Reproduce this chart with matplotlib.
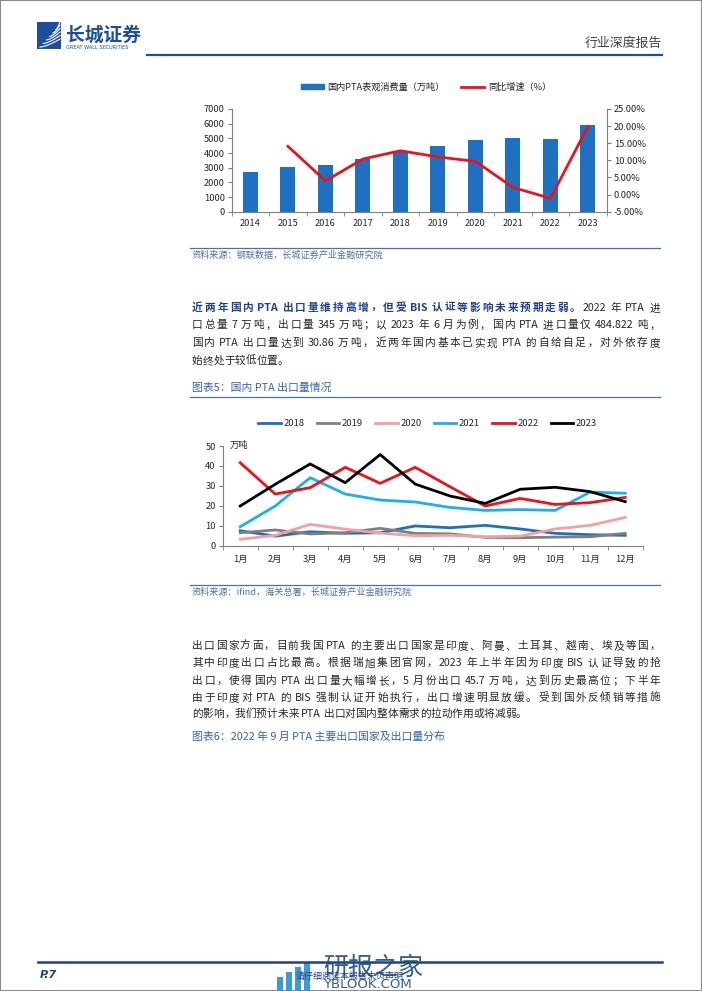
import numpy as np
import matplotlib
matplotlib.use('Agg')
import matplotlib.pyplot as plt
from matplotlib.patches import Rectangle, Patch
from matplotlib.lines import Line2D
from matplotlib.font_manager import FontProperties

plt.rcParams['font.family'] = ['Noto Sans CJK SC', 'DejaVu Sans']

# ---------------- data ----------------
years = ['2014', '2015', '2016', '2017', '2018', '2019', '2020', '2021', '2022', '2023']
consumption = [2740, 3080, 3215, 3580, 4050, 4470, 4900, 5040, 4970, 5930]
growth = [np.nan, 14.1, 4.0, 10.4, 12.8, 11.0, 9.7, 2.1, -1.1, 19.9]

months = ['1月', '2月', '3月', '4月', '5月', '6月', '7月', '8月', '9月', '10月', '11月', '12月']
exp_2018 = [7.5, 4.8, 7.0, 6.2, 6.5, 9.9, 9.0, 10.2, 8.4, 6.2, 5.5, 5.2]
exp_2019 = [6.5, 7.9, 5.9, 6.5, 8.7, 6.2, 5.9, 4.2, 4.0, 4.3, 4.5, 6.2]
exp_2020 = [3.2, 5.2, 10.7, 8.3, 6.3, 5.0, 5.2, 4.5, 4.8, 8.4, 10.2, 14.2]
exp_2021 = [9.5, 19.9, 34.1, 25.9, 22.9, 21.9, 19.2, 17.7, 18.1, 17.7, 26.9, 26.3]
exp_2022 = [41.6, 25.9, 29.1, 39.3, 31.3, 39.3, 29.5, 19.9, 23.7, 20.7, 21.6, 24.2]
exp_2023 = [19.9, 30.8, 41.0, 31.6, 45.7, 30.9, 24.9, 21.2, 28.3, 29.3, 27.1, 22.1]
export_series = [('2018', exp_2018, '#1F6EC0'), ('2019', exp_2019, '#7F7F7F'),
                 ('2020', exp_2020, '#F4A0A0'), ('2021', exp_2021, '#1CB0EA'),
                 ('2022', exp_2022, '#E8141C'), ('2023', exp_2023, '#000000')]

# ---------------- page ----------------
W, H = 702, 991
fig = plt.figure(figsize=(W / 100, H / 100), dpi=100)
renderer = fig.canvas.get_renderer()


def X(px):
    return px / W


def Y(py):
    return 1 - py / H


BLUE_DARK = '#1D3F94'
BLUE_T = '#3563B0'
SRC = '#4E6FA8'
TXT = '#262626'


def hline(x0, x1, y, color, lw):
    fig.add_artist(Line2D([X(x0), X(x1)], [Y(y), Y(y)], color=color, lw=lw,
                          transform=fig.transFigure))


def adv_of(s, fp, size):
    if not s.isascii():
        return size * 100 / 72.0 * len(s)
    w1, _, _ = renderer.get_text_width_height_descent('|' + s + '|', fp, ismath=False)
    w0, _, _ = renderer.get_text_width_height_descent('||', fp, ismath=False)
    return w1 - w0


def place_line(y_px, segments, x0=192.0, width=None, size=7.7):
    tokens = []
    for text, color, weight in segments:
        fp = FontProperties(family=['Noto Sans CJK SC', 'DejaVu Sans'], weight=weight, size=size)
        i = 0
        while i < len(text):
            ch = text[i]
            if ch == ' ':
                tokens.append((None, adv_of(' ', fp, size), None, None))
                i += 1
            elif ch.isascii():
                j = i
                while j < len(text) and text[j].isascii() and text[j] != ' ':
                    j += 1
                word = text[i:j]
                tokens.append((word, adv_of(word, fp, size), color, fp))
                i = j
            else:
                tokens.append((ch, adv_of(ch, fp, size), color, fp))
                i += 1
    total = sum(t[1] for t in tokens)
    n = len([t for t in tokens if t[0] is not None])
    extra = (width - total) / (n - 1) if (width and n > 1) else 0
    x = x0
    for word, adv, color, fp in tokens:
        if word is None:
            x += adv
            continue
        fig.text(X(x), Y(y_px), word, ha='left', va='baseline', fontproperties=fp, color=color)
        x += adv + extra


# border
fig.add_artist(Rectangle((0, 0), 1, 1, transform=fig.transFigure, fill=False,
                         edgecolor='#8C8C8C', lw=1.5))

# header
fig.add_artist(Rectangle((X(37), Y(49)), X(24), 27 / H, transform=fig.transFigure,
                         color='#1D4E9E', lw=0))
for k in range(6):
    xs = np.linspace(40 + k * 3.2, 60, 20)
    ys = 47 - k * 3.5 - 8 * ((xs - xs[0]) / (60 - xs[0] + 1e-9)) ** 1.5
    fig.add_artist(Line2D([X(v) for v in xs], [Y(v) for v in ys], color='white', lw=0.8,
                          transform=fig.transFigure))
fig.text(X(66), Y(35), '长城证券', fontsize=13.5, fontweight='bold', color='#1D4E9E',
         ha='left', va='center')
fig.text(X(66), Y(47.5), 'GREAT WALL SECURITIES', fontsize=3.6, color='#1D4E9E',
         ha='left', va='center', family='DejaVu Sans')
fig.text(X(662), Y(43), '行业深度报告', fontsize=9.3, color='#404040', ha='right', va='center')
hline(147, 662, 55, '#1F4E9A', 1.6)

# ---------------- chart 1 ----------------
ax1 = fig.add_axes([X(231.7), Y(211.7), (606.7 - 231.7) / W, (211.7 - 109) / H])
xi = np.arange(len(years))
ax1.bar(xi, consumption, width=0.4, color='#1F70C1', zorder=2)
ax1.set_xlim(-0.5, len(years) - 0.5)
ax1.set_ylim(0, 7000)
ax1.set_yticks(np.arange(0, 7001, 1000))
ax1.set_xticks(xi)
ax1.set_xticklabels(years)
ax1.set_xticks(np.arange(-0.5, len(years)), minor=True)
ax1.tick_params(axis='x', which='major', length=0, labelsize=6.7, pad=5, colors=TXT)
ax1.tick_params(axis='x', which='minor', length=3, direction='out', color='#7F7F7F')
ax1.tick_params(axis='y', length=3, direction='out', labelsize=6.7, color='#7F7F7F', labelcolor=TXT, pad=2)
for s in ['top', 'right']:
    ax1.spines[s].set_visible(False)
for s in ['left', 'bottom']:
    ax1.spines[s].set_color('#7F7F7F')
ax2 = ax1.twinx()
ax2.plot(xi, growth, color='#E8141C', lw=2, zorder=3)
ax2.set_ylim(-5, 25)
ax2.set_yticks(np.arange(-5, 25.1, 5))
ax2.set_yticklabels([f'{v:.2f}%' for v in np.arange(-5, 25.1, 5)])
ax2.tick_params(axis='y', length=3, direction='out', labelsize=6.7, color='#7F7F7F', labelcolor=TXT, pad=2)
for s in ['top', 'left', 'bottom']:
    ax2.spines[s].set_visible(False)
ax2.spines['right'].set_color('#7F7F7F')

leg1 = fig.legend([Patch(color='#1F70C1'), Line2D([], [], color='#E8141C', lw=2)],
                  ['国内PTA表观消费量（万吨）', '同比增速（%）'],
                  loc='center', bbox_to_anchor=(X(426), Y(87)), ncol=2, frameon=False,
                  fontsize=6.6, handlelength=2.5, handleheight=0.55, handletextpad=0.4,
                  columnspacing=1.8)
for t in leg1.get_texts():
    t.set_color(TXT)

hline(190, 660, 247.5, '#4A6FB5', 0.9)
fig.text(X(192), Y(255), '资料来源：钢联数据，长城证券产业金融研究院', fontsize=6.6, color=SRC,
         ha='left', va='center', style='italic')

# ---------------- paragraph 1 ----------------
W_TXT = 468
place_line(310.7, [('近两年国内 PTA 出口量维持高增，但受 BIS 认证等影响未来预期走弱。', BLUE_DARK, 'bold'),
                   ('2022 年 PTA 进', TXT, 'normal')], width=W_TXT)
place_line(328.4, [('口总量 7 万吨，出口量 345 万吨；以 2023 年 6 月为例，国内 PTA 进口量仅 484.822 吨，', TXT, 'normal')], width=W_TXT)
place_line(346.2, [('国内 PTA 出口量达到 30.86 万吨，近两年国内基本已实现 PTA 的自给自足，对外依存度', TXT, 'normal')], width=W_TXT)
place_line(364.0, [('始终处于较低位置。', TXT, 'normal')])

fig.text(X(192), Y(387.3), '图表5：国内 PTA 出口量情况', fontsize=7.8, color=BLUE_T,
         ha='left', va='center', style='italic')
hline(190, 660, 397.3, '#4A6FB5', 0.9)

# ---------------- chart 2 ----------------
ax3 = fig.add_axes([X(222.7), Y(545.7), 420 / W, 99.7 / H])
mi = np.arange(len(months))
for name, vals, col in export_series:
    ax3.plot(mi, vals, color=col, lw=2, label=name)
ax3.set_xlim(-0.5, len(months) - 0.5)
ax3.set_ylim(0, 50)
ax3.set_yticks(np.arange(0, 51, 10))
ax3.set_xticks(mi)
ax3.set_xticklabels(months)
ax3.set_xticks(np.arange(-0.5, len(months)), minor=True)
ax3.tick_params(axis='x', which='major', length=0, labelsize=6.7, pad=7, colors=TXT)
ax3.tick_params(axis='x', which='minor', length=3, direction='out', color='#7F7F7F')
ax3.tick_params(axis='y', length=3, direction='out', labelsize=6.7, color='#7F7F7F', labelcolor=TXT, pad=2)
for s in ['top', 'right']:
    ax3.spines[s].set_visible(False)
for s in ['left', 'bottom']:
    ax3.spines[s].set_color('#7F7F7F')
ax3.text(0.017, 1.01, '万吨', transform=ax3.transAxes, fontsize=6.7, color=TXT,
         ha='left', va='center')
h, l = ax3.get_legend_handles_labels()
leg2 = fig.legend(h, l, loc='center', bbox_to_anchor=(X(427.5), Y(424)), ncol=6, frameon=False,
                  fontsize=6.8, handlelength=2.4, handletextpad=0.25, columnspacing=1.3)
for t in leg2.get_texts():
    t.set_color(TXT)

hline(190, 660, 585, '#4A6FB5', 0.9)
fig.text(X(192), Y(592.5), '资料来源：ifind，海关总署，长城证券产业金融研究院', fontsize=6.6, color=SRC,
         ha='left', va='center', style='italic')

# ---------------- paragraph 2 ----------------
p2 = ['出口国家方面，目前我国 PTA 的主要出口国家是印度、阿曼、土耳其、越南、埃及等国，',
      '其中印度出口占比最高。根据瑞旭集团官网，2023 年上半年因为印度 BIS 认证导致的抢',
      '出口，使得国内 PTA 出口量大幅增长，5 月份出口 45.7 万吨，达到历史最高位；下半年',
      '由于印度对 PTA 的 BIS 强制认证开始执行，出口增速明显放缓。受到国外反倾销等措施',
      '的影响，我们预计未来 PTA 出口对国内整体需求的拉动作用或将减弱。']
ys2 = [649, 666.3, 684, 700.7, 717.3]
for k, (line, yy) in enumerate(zip(p2, ys2)):
    place_line(yy, [(line, TXT, 'normal')], width=W_TXT if k < len(p2) - 1 else None, size=7.7)

fig.text(X(192), Y(737), '图表6：2022 年 9 月 PTA 主要出口国家及出口量分布', fontsize=7.8, color=BLUE_T,
         ha='left', va='center', style='italic')

# ---------------- footer ----------------
hline(38, 662, 962, '#1F3F8F', 1.8)
fig.text(X(40), Y(975), 'P.7', fontsize=8, fontweight='bold', style='italic', color='#1F3F8F',
         ha='left', va='center', family='DejaVu Sans')
fig.text(X(350), Y(976), '请仔细阅读本报告末页声明', fontsize=6.5, color='#1F3F8F',
         ha='center', va='center', style='italic')
for k, (bx, bh) in enumerate([(277, 14), (286, 19), (295, 24), (304, 28)]):
    fig.add_artist(Rectangle((X(bx), Y(991)), 6 / W, bh / H, transform=fig.transFigure,
                             color='#2A8FD0', lw=0, alpha=0.9))
fig.text(X(323), Y(968), '研报之家', fontsize=18, color='#1F4E79', ha='left', va='center', alpha=0.9)
fig.text(X(323), Y(985), 'YBLOOK.COM', fontsize=9.5, color='#1F4E79', ha='left', va='center',
         family='DejaVu Sans', alpha=0.9)

fig.savefig('out.png', dpi=100)
